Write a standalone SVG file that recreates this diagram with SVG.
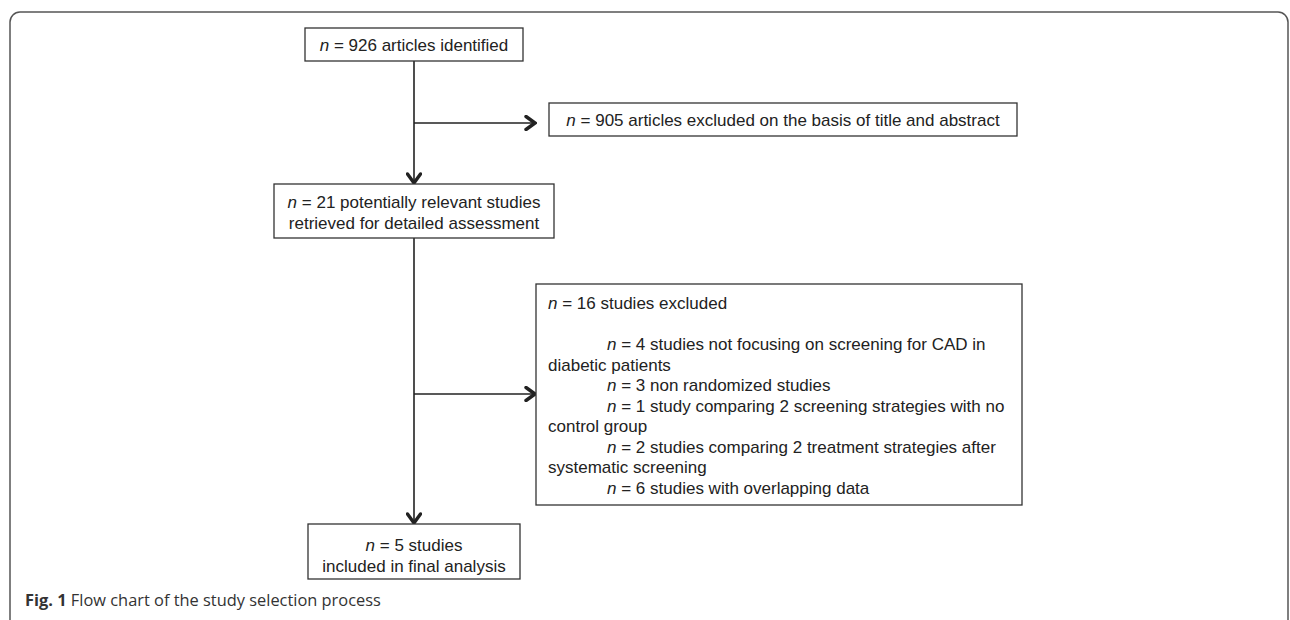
<svg xmlns="http://www.w3.org/2000/svg" width="1290" height="620" viewBox="0 0 1290 620">
<defs>
<style>
.box{fill:#fff;stroke:#333;stroke-width:1.3}
.t{font-family:"Liberation Sans",Arial,sans-serif;font-size:17px;fill:#222}
.c{text-anchor:middle}
.ln{fill:none;stroke:#222;stroke-width:1.6}
.cap{font-family:"Open Sans","Liberation Sans",sans-serif;font-size:16.4px;fill:#333}
</style>
<marker id="ah" viewBox="0 0 14 16" markerWidth="14" markerHeight="16" refX="12" refY="8" orient="auto" markerUnits="userSpaceOnUse">
<path d="M3,1.5 L12,8 L3,14.5" fill="none" stroke="#222" stroke-width="3.4" stroke-linecap="round" stroke-linejoin="miter"/>
</marker>
</defs>
<rect x="10" y="12" width="1278" height="700" rx="10" ry="10" fill="none" stroke="#555" stroke-width="1.5"/>
<g id="connectors">
<line class="ln" x1="414" y1="61" x2="414" y2="183" marker-end="url(#ah)"/>
<line class="ln" x1="414" y1="123" x2="535" y2="123" marker-end="url(#ah)"/>
<line class="ln" x1="414" y1="238" x2="414" y2="523" marker-end="url(#ah)"/>
<line class="ln" x1="414" y1="394" x2="535" y2="394" marker-end="url(#ah)"/>
</g>
<g id="n1">
<rect class="box" x="305" y="28" width="218" height="33"/>
<text class="t c" x="414" y="50.5"><tspan font-style="italic">n</tspan> = 926 articles identified</text>
</g>
<g id="n2">
<rect class="box" x="549" y="103" width="468" height="33"/>
<text class="t c" x="783" y="125.5"><tspan font-style="italic">n</tspan> = 905 articles excluded on the basis of title and abstract</text>
</g>
<g id="n3">
<rect class="box" x="274" y="184" width="280" height="54"/>
<text class="t c" x="414" y="208"><tspan font-style="italic">n</tspan> = 21 potentially relevant studies</text>
<text class="t c" x="414" y="228.5">retrieved for detailed assessment</text>
</g>
<g id="n4">
<rect class="box" x="536" y="284" width="486" height="221"/>
<text class="t" x="548" y="309"><tspan font-style="italic">n</tspan> = 16 studies excluded</text>
<text class="t" x="607" y="350"><tspan font-style="italic">n</tspan> = 4 studies not focusing on screening for CAD in</text>
<text class="t" x="548" y="370.5">diabetic patients</text>
<text class="t" x="607" y="391"><tspan font-style="italic">n</tspan> = 3 non randomized studies</text>
<text class="t" x="607" y="411.5"><tspan font-style="italic">n</tspan> = 1 study comparing 2 screening strategies with no</text>
<text class="t" x="548" y="432">control group</text>
<text class="t" x="607" y="452.5"><tspan font-style="italic">n</tspan> = 2 studies comparing 2 treatment strategies after</text>
<text class="t" x="548" y="473">systematic screening</text>
<text class="t" x="607" y="493.5"><tspan font-style="italic">n</tspan> = 6 studies with overlapping data</text>
</g>
<g id="n5">
<rect class="box" x="308" y="524" width="212" height="55"/>
<text class="t c" x="414" y="551"><tspan font-style="italic">n</tspan> = 5 studies</text>
<text class="t c" x="414" y="571.5">included in final analysis</text>
</g>
<text class="cap" x="25" y="606"><tspan font-weight="bold">Fig. 1</tspan> Flow chart of the study selection process</text>
</svg>
